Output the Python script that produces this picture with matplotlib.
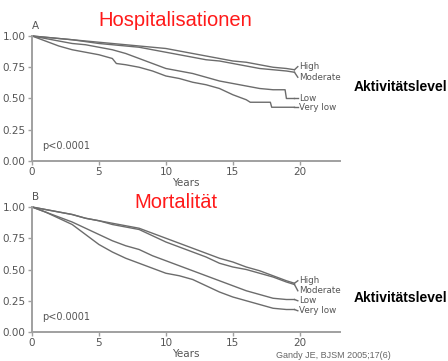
import matplotlib
matplotlib.use("Agg")
import matplotlib.pyplot as plt

# ---------------- data ----------------
groups = ["High", "Moderate", "Low", "Very low"]

# Panel A: Hospitalisation
a_x = {
    "High":     [0, 1, 2, 3, 4, 5, 6, 7, 8, 9, 10, 11, 12, 13, 14, 15, 16, 17, 18, 19, 19.6],
    "Moderate": [0, 1, 2, 3, 4, 5, 6, 7, 8, 9, 10, 11, 12, 13, 14, 15, 16, 17, 18, 19, 19.6],
    "Low":      [0, 1, 2, 3, 4, 5, 6, 7, 8, 9, 10, 11, 12, 13, 14, 15, 16, 17, 18, 18.9, 19.0, 19.6],
    "Very low": [0, 1, 2, 3, 4, 5, 6, 6.3, 7, 8, 9, 10, 11, 12, 13, 14, 15, 16, 16.3, 17.8, 17.9, 19.6],
}
a_y = {
    "High":     [1.00, 0.99, 0.98, 0.97, 0.96, 0.95, 0.94, 0.93, 0.92, 0.91, 0.90, 0.88, 0.86, 0.84, 0.82, 0.80, 0.79, 0.77, 0.75, 0.74, 0.73],
    "Moderate": [1.00, 0.99, 0.98, 0.97, 0.955, 0.94, 0.93, 0.92, 0.91, 0.89, 0.87, 0.85, 0.83, 0.81, 0.80, 0.78, 0.76, 0.74, 0.73, 0.72, 0.71],
    "Low":      [1.00, 0.98, 0.96, 0.94, 0.93, 0.91, 0.89, 0.86, 0.82, 0.78, 0.74, 0.72, 0.70, 0.67, 0.64, 0.62, 0.60, 0.58, 0.57, 0.57, 0.50, 0.50],
    "Very low": [1.00, 0.96, 0.92, 0.89, 0.87, 0.85, 0.82, 0.78, 0.77, 0.75, 0.72, 0.68, 0.66, 0.63, 0.61, 0.58, 0.53, 0.49, 0.47, 0.47, 0.43, 0.43],
}
a_label_y = {"High": 0.755, "Moderate": 0.67, "Low": 0.50, "Very low": 0.43}

# Panel B: Mortality
b_x = [0, 1, 2, 3, 4, 5, 6, 7, 8, 9, 10, 11, 12, 13, 14, 15, 16, 17, 18, 19, 19.6]
b_y = {
    "High":     [1.00, 0.98, 0.96, 0.94, 0.91, 0.89, 0.87, 0.85, 0.83, 0.79, 0.75, 0.71, 0.67, 0.63, 0.59, 0.56, 0.52, 0.49, 0.45, 0.41, 0.39],
    "Moderate": [1.00, 0.98, 0.96, 0.94, 0.91, 0.89, 0.86, 0.84, 0.82, 0.77, 0.72, 0.68, 0.64, 0.60, 0.55, 0.52, 0.50, 0.47, 0.44, 0.40, 0.38],
    "Low":      [1.00, 0.96, 0.92, 0.88, 0.83, 0.78, 0.73, 0.69, 0.66, 0.61, 0.57, 0.53, 0.49, 0.45, 0.41, 0.37, 0.33, 0.30, 0.27, 0.26, 0.26],
    "Very low": [1.00, 0.96, 0.91, 0.86, 0.78, 0.70, 0.64, 0.59, 0.55, 0.51, 0.47, 0.45, 0.42, 0.37, 0.32, 0.28, 0.25, 0.22, 0.19, 0.18, 0.18],
}
b_label_y = {"High": 0.41, "Moderate": 0.33, "Low": 0.25, "Very low": 0.17}

x_ticks = [0, 5, 10, 15, 20]
y_ticks = [0.00, 0.25, 0.50, 0.75, 1.00]

# ---------------- figure ----------------
fig = plt.figure(figsize=(4.48, 3.61), dpi=100)
plt.rcParams["font.family"] = ["DejaVu Sans"]

line_col = "#6c6c6c"
axis_col = "#a0a0a0"
text_col = "#555555"

def setup(ax, letter):
    ax.set_xlim(0, 23)
    ax.set_ylim(0, 1.0)
    for s in ["top", "right"]:
        ax.spines[s].set_visible(False)
    for s in ["left", "bottom"]:
        ax.spines[s].set_color(axis_col)
        ax.spines[s].set_linewidth(1.4)
    ax.set_xticks(x_ticks)
    ax.set_yticks(y_ticks)
    ax.set_yticklabels([f"{v:.2f}" for v in y_ticks])
    ax.tick_params(direction="out", length=3, width=1, color=axis_col,
                   labelsize=7.5, labelcolor=text_col, pad=1.5)
    ax.set_xlabel("Years", fontsize=7.5, color=text_col, labelpad=0.5)
    ax.text(0.0, 1.08, letter, transform=ax.transAxes, fontsize=7.5,
            color=text_col, ha="left", va="center")
    ax.text(0.75, 0.12, "p<0.0001", fontsize=7, color=text_col,
            ha="left", va="center")
    ax.patch.set_alpha(0)

def draw(ax, xs, ys, label_y):
    for g in groups:
        x = xs[g] if isinstance(xs, dict) else xs
        y = ys[g]
        ax.plot(x, y, color=line_col, lw=1.0, clip_on=False)
        ax.plot([x[-1], 19.85], [y[-1], label_y[g]], color=line_col, lw=1.0,
                clip_on=False)
        ax.text(19.95, label_y[g], g, fontsize=6.3, color=text_col,
                ha="left", va="center")

ax1 = fig.add_axes([0.0714, 0.554, 0.6875, 0.3463])
setup(ax1, "A")
draw(ax1, a_x, a_y, a_label_y)

ax2 = fig.add_axes([0.0714, 0.0803, 0.6875, 0.3463])
setup(ax2, "B")
draw(ax2, b_x, b_y, b_label_y)

# titles and annotations
fig.text(175 / 448, 1 - 20 / 361, "Hospitalisationen", color="#ff1a1a",
         fontsize=14.5, family="Liberation Sans", ha="center", va="center")
fig.text(176 / 448, 1 - 202 / 361, "Mortalität", color="#ff1a1a",
         fontsize=14.5, family="Liberation Sans", ha="center", va="center")
fig.text(354 / 448, 1 - 87 / 361, "Aktivitätslevel", color="black",
         fontsize=10, family="Liberation Sans", weight="bold",
         ha="left", va="center")
fig.text(354 / 448, 1 - 298 / 361, "Aktivitätslevel", color="black",
         fontsize=10, family="Liberation Sans", weight="bold",
         ha="left", va="center")
fig.text(276 / 448, 0.004, "Gandy JE, BJSM 2005;17(6)", color="#666666",
         fontsize=6.5, family="Liberation Sans", ha="left", va="bottom")

fig.savefig("out.png", dpi=100)
